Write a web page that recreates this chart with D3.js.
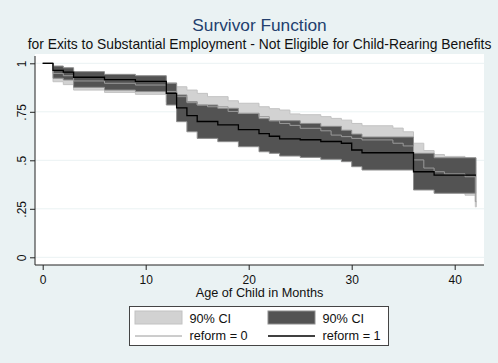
<!DOCTYPE html>
<html>
<head>
<meta charset="utf-8">
<script src="https://cdn.jsdelivr.net/npm/d3@7"></script>
<style>
  html, body { margin: 0; padding: 0; background: #eaf2f3; }
  svg { display: block; font-family: "Liberation Sans", Arial, Helvetica, sans-serif; }
</style>
</head>
<body>
<svg id="chart" width="498" height="363"></svg>
<script>
// Kaplan-Meier survivor estimates with 90% confidence bands, by reform group
const titleText = "Survivor Function";
const subtitleText = "for Exits to Substantial Employment - Not Eligible for Child-Rearing Benefits";
const xAxisTitle = "Age of Child in Months";

const monthTicks = [0, 10, 20, 30, 40];
const survTicks = [0, 0.25, 0.5, 0.75, 1];
const survTickLabels = ["0", ".25", ".5", ".75", "1"];

// reform = 0
const times0 = [0, 1, 2, 3, 6, 9, 12, 13, 14, 15, 16, 18, 19, 21, 22, 23, 24, 25, 27, 28, 29, 30, 31, 34, 35, 36, 37, 38, 39, 41, 42];
const surv0  = [1, .948, .936, .909, .897, .888, .855, .828, .797, .785, .776, .752, .742, .725, .704, .69, .68, .665, .652, .63, .622, .613, .605, .588, .574, .502, .46, .441, .43, .415, .287];
const lower0 = [1, .905, .89, .862, .85, .84, .80, .77, .735, .72, .71, .685, .675, .655, .64, .625, .61, .60, .585, .56, .55, .54, .53, .51, .50, .40, .37, .35, .345, .32, .26];
const upper0 = [1, .978, .97, .945, .935, .928, .90, .879, .862, .845, .828, .807, .794, .776, .766, .759, .739, .735, .725, .716, .707, .69, .678, .666, .647, .588, .55, .53, .52, .51, .33];
const lastMonth0 = 42.1;

// reform = 1
const times1 = [0, 1, 2, 3, 6, 9, 12, 13, 14, 15, 17, 19, 21, 22, 23, 25, 27, 29, 30, 31, 36, 38];
const surv1  = [1, .964, .954, .928, .916, .907, .845, .77, .73, .70, .683, .658, .637, .624, .61, .606, .597, .588, .553, .539, .441, .424];
const lower1 = [1, .923, .914, .876, .862, .854, .785, .699, .647, .613, .596, .570, .544, .536, .522, .515, .505, .493, .467, .45, .347, .33];
const upper1 = [1, .986, .977, .957, .943, .936, .897, .837, .802, .785, .768, .742, .715, .704, .704, .69, .675, .655, .635, .62, .536, .513];
const lastMonth1 = 42.07;

const legendLabels = ["90% CI", "90% CI", "reform = 0", "reform = 1"];

const colors = {
  bg: "#eaf2f3", grid: "#eaf2f3", title: "#233f6e",
  ci0: "#d2d2d2", ci0Edge: "#c2c2c2",
  ci1: "#535353", ci1Edge: "#8e8e8e",
  line0: "#9a9a9a", line1: "#000000"
};

const svg = d3.select("#chart");
const W = 498, H = 363;
const plot = { left: 35, right: 484, top: 54, bottom: 265 };

svg.append("rect").attr("width", W).attr("height", H).attr("fill", colors.bg);
svg.append("rect")
  .attr("x", plot.left).attr("y", plot.top)
  .attr("width", plot.right - plot.left).attr("height", plot.bottom - plot.top)
  .attr("fill", "#ffffff");

const x = d3.scaleLinear().domain([0, 40]).range([42.7, 454.7]);
const y = d3.scaleLinear().domain([0, 1]).range([257.3, 63.3]);

// horizontal grid
svg.append("g").selectAll("line").data(survTicks).join("line")
  .attr("x1", plot.left).attr("x2", plot.right)
  .attr("y1", d => y(d)).attr("y2", d => y(d))
  .attr("stroke", colors.grid).attr("stroke-width", 1);

function series(times, s, lo, hi, end) {
  const pts = times.map((t, i) => ({ t, s: s[i], lo: lo[i], hi: hi[i] }));
  const last = pts[pts.length - 1];
  pts.push({ t: end, s: last.s, lo: last.lo, hi: last.hi });
  return pts;
}
const g0 = series(times0, surv0, lower0, upper0, lastMonth0);
const g1 = series(times1, surv1, lower1, upper1, lastMonth1);

const band = d3.area()
  .x(d => x(d.t)).y0(d => y(d.lo)).y1(d => y(d.hi))
  .curve(d3.curveStepAfter);
const step = d3.line()
  .x(d => x(d.t)).y(d => y(d.s))
  .curve(d3.curveStepAfter);

svg.append("path").datum(g0).attr("d", band)
  .attr("fill", colors.ci0).attr("stroke", colors.ci0Edge).attr("stroke-width", 1);
svg.append("path").datum(g1).attr("d", band)
  .attr("fill", colors.ci1).attr("stroke", colors.ci1Edge).attr("stroke-width", 1);
svg.append("path").datum(g0).attr("d", step)
  .attr("fill", "none").attr("stroke", colors.line0).attr("stroke-width", 1);
svg.append("path").datum(g1).attr("d", step)
  .attr("fill", "none").attr("stroke", colors.line1).attr("stroke-width", 1.3);

// y axis
const yAxis = svg.append("g").attr("transform", `translate(${plot.left},0)`)
  .call(d3.axisLeft(y).tickValues(survTicks).tickSize(5)
    .tickFormat((d, i) => survTickLabels[i]));
yAxis.select(".domain").remove();
yAxis.selectAll(".tick line").attr("stroke", "#222");
yAxis.selectAll(".tick text")
  .attr("x", null).attr("dy", null)
  .attr("transform", "translate(-9.5,0) rotate(-90)")
  .attr("text-anchor", "middle")
  .attr("font-size", 12).attr("fill", "#111");
svg.append("line")
  .attr("x1", plot.left).attr("x2", plot.left)
  .attr("y1", plot.top + 2).attr("y2", plot.bottom)
  .attr("stroke", "#222").attr("stroke-width", 1);

// x axis
const xAxis = svg.append("g").attr("transform", `translate(0,${plot.bottom})`)
  .call(d3.axisBottom(x).tickValues(monthTicks).tickSize(5).tickFormat(d3.format("d")));
xAxis.select(".domain").remove();
xAxis.selectAll(".tick line").attr("stroke", "#222");
xAxis.selectAll(".tick text")
  .attr("y", 19).attr("dy", null)
  .attr("font-size", 12).attr("fill", "#111");
svg.append("line")
  .attr("x1", plot.left).attr("x2", plot.right)
  .attr("y1", plot.bottom).attr("y2", plot.bottom)
  .attr("stroke", "#222").attr("stroke-width", 1);

const cx = (plot.left + plot.right) / 2;

// titles
svg.append("text").attr("x", cx).attr("y", 31)
  .attr("text-anchor", "middle").attr("font-size", 17.3)
  .attr("fill", colors.title).text(titleText);
const sub = svg.append("text").attr("x", cx).attr("y", 49)
  .attr("text-anchor", "middle").attr("font-size", 13)
  .attr("fill", "#111").text(subtitleText);
const subW = sub.node().getComputedTextLength();
if (subW > 0) sub.attr("font-size", 13 * 464 / subW);

svg.append("text").attr("x", cx).attr("y", 297)
  .attr("text-anchor", "middle").attr("font-size", 12.7)
  .attr("fill", "#111").text(xAxisTitle);

// legend
const leg = svg.append("g");
leg.append("rect").attr("x", 129.5).attr("y", 306.5).attr("width", 259).attr("height", 39)
  .attr("fill", "#ffffff").attr("stroke", "#444").attr("stroke-width", 1);
const cols = [135, 268];
const swatch = [
  { fill: colors.ci0, stroke: colors.ci0Edge },
  { fill: colors.ci1, stroke: colors.ci1Edge }
];
const lineStyle = [
  { stroke: colors.line0, w: 1 },
  { stroke: colors.line1, w: 1.3 }
];
cols.forEach((c, i) => {
  leg.append("rect").attr("x", c).attr("y", 311).attr("width", 47).attr("height", 13)
    .attr("fill", swatch[i].fill).attr("stroke", swatch[i].stroke).attr("stroke-width", 1);
  leg.append("text").attr("x", c + 54.5).attr("y", 323)
    .attr("font-size", 12.7).attr("fill", "#111").text(legendLabels[i]);
  leg.append("line").attr("x1", c).attr("x2", c + 47).attr("y1", 336).attr("y2", 336)
    .attr("stroke", lineStyle[i].stroke).attr("stroke-width", lineStyle[i].w);
  leg.append("text").attr("x", c + 54.5).attr("y", 340)
    .attr("font-size", 12.7).attr("fill", "#111").text(legendLabels[i + 2]);
});
</script>
</body>
</html>
